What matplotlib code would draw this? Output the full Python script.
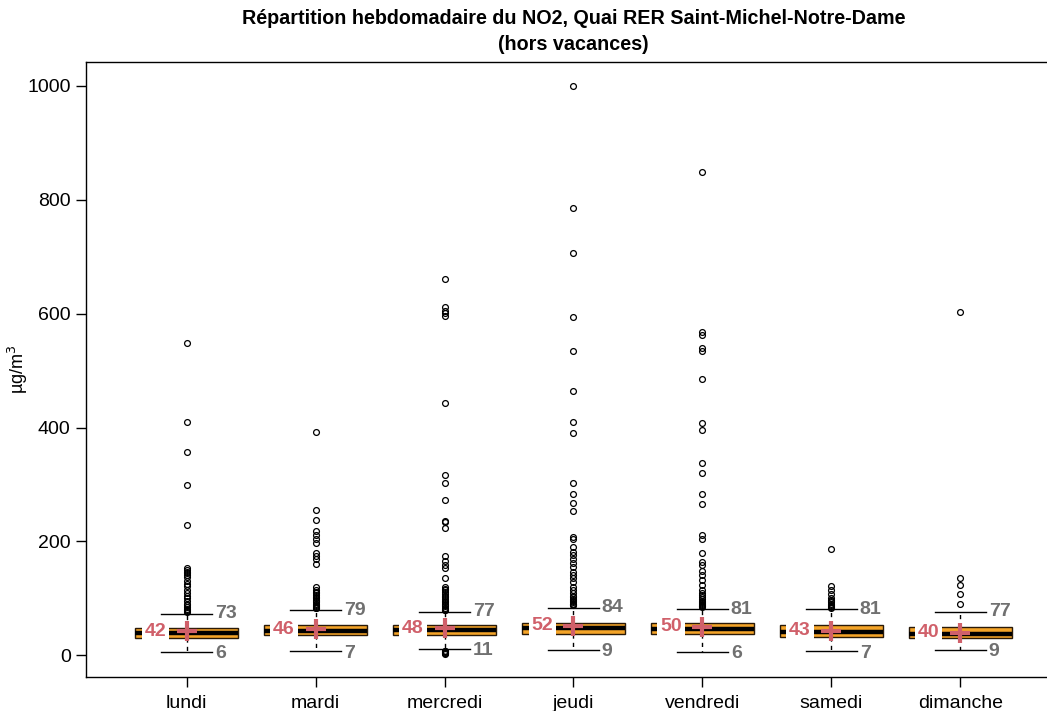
import matplotlib
matplotlib.use("Agg")
import matplotlib.pyplot as plt

plt.rcParams['font.family'] = ['Liberation Sans', 'DejaVu Sans']

# Weekly NO2 distribution (µg/m3), one entry per day
days = ["lundi", "mardi", "mercredi", "jeudi", "vendredi", "samedi", "dimanche"]
q1 = [30, 35, 36, 37, 37, 33, 30]
medians = [39, 43, 45, 48, 47, 41, 38]
q3 = [48, 54, 53, 57, 56, 53, 49]
whisk_low = [6, 7, 11, 9, 6, 7, 9]
whisk_high = [73, 79, 77, 84, 81, 81, 77]
means = [42, 46, 48, 52, 50, 43, 40]

out_lundi = [549, 410, 358, 300, 229, 153, 150, 147, 145, 142, 137, 131, 126,
             122, 115, 109, 105, 100, 96, 91, 88, 85, 82, 80, 78, 76]
out_mardi = [392, 255, 237, 218, 211, 204, 197, 179, 174, 169, 160, 120, 114,
             112, 109, 106, 103, 100, 97, 95, 93, 91, 89, 87, 85, 84, 83]
out_mercredi = [661, 612, 605, 601, 596, 443, 317, 303, 273, 236, 234, 223,
                174, 166, 158, 153, 136, 120, 117, 114, 111, 108, 105, 102,
                99, 96, 93, 90, 88, 86, 84, 82, 80, 79, 8, 7, 6, 5, 4, 3]
out_jeudi = [1000, 786, 707, 595, 534, 465, 410, 391, 302, 284, 267, 254, 208,
             205, 191, 182, 176, 169, 162, 155, 146, 141, 135, 129, 120, 114,
             109, 105, 102, 99, 97, 95, 93, 91, 90, 89, 88]
out_vendredi = [848, 568, 563, 539, 534, 486, 408, 395, 338, 321, 284, 266,
                212, 205, 180, 164, 158, 149, 141, 132, 123, 114, 110, 106,
                102, 99, 96, 94, 92, 90, 88, 87, 86, 85]
out_samedi = [187, 121, 114, 107, 100, 97, 95, 93, 91, 89, 87, 85, 84]
out_dimanche = [603, 136, 123, 108, 91]
outliers = [out_lundi, out_mardi, out_mercredi, out_jeudi, out_vendredi,
            out_samedi, out_dimanche]

title = "Répartition hebdomadaire du NO2, Quai RER Saint-Michel-Notre-Dame\n(hors vacances)"

fig = plt.figure(figsize=(10.47, 7.11), dpi=100)
ax = fig.add_axes([86 / 1047, 1 - 677 / 711, (1061 - 86) / 1047, (677 - 62) / 711])

stats = []
for i, d in enumerate(days):
    stats.append(dict(label=d, q1=q1[i], med=medians[i], q3=q3[i],
                      whislo=whisk_low[i], whishi=whisk_high[i],
                      mean=means[i], fliers=outliers[i]))

positions = list(range(1, len(days) + 1))
box_col = "#F4A428"
ax.bxp(stats, positions=positions, widths=0.8, patch_artist=True,
       showmeans=False,
       boxprops=dict(facecolor=box_col, edgecolor="#2a1a08", linewidth=1.0),
       medianprops=dict(color="black", linewidth=3.2, solid_capstyle="butt"),
       whiskerprops=dict(color="black", linewidth=1.0, linestyle=(0, (3, 3))),
       capprops=dict(color="black", linewidth=1.0),
       capwidths=0.4,
       flierprops=dict(marker="o", markerfacecolor="none",
                       markeredgecolor="black", markersize=4.2,
                       markeredgewidth=0.9, linestyle="none"))

mean_col = "#D0606A"
grey = "#707070"
for i, x in enumerate(positions):
    ax.plot(x, means[i], marker="+", color=mean_col, markersize=14,
            markeredgewidth=3, zorder=5)
    ax.text(x - 0.16, means[i], str(means[i]), ha="right", va="center",
            fontsize=14, fontweight="bold", color=mean_col, zorder=6,
            bbox=dict(facecolor="white", edgecolor="none", pad=2.0))
    ax.text(x + 0.22, whisk_high[i], str(whisk_high[i]), ha="left",
            va="center", fontsize=14, fontweight="bold", color=grey, zorder=6)
    ax.text(x + 0.22, whisk_low[i] - 3, str(whisk_low[i]), ha="left",
            va="center", fontsize=14, fontweight="bold", color=grey, zorder=6)

ax.set_xlim(0.22, 7.78)
ax.set_ylim(-38, 1042)
ax.set_xticks(positions)
ax.set_xticklabels(days, fontsize=14)
ax.set_yticks([0, 200, 400, 600, 800, 1000])
ax.tick_params(axis="y", labelsize=14, length=7, width=1, pad=4)
ax.tick_params(axis="x", length=7, width=1, pad=6)
ax.set_ylabel("µg/m$^3$", fontsize=13)
ax.yaxis.set_label_coords(-0.057, 0.5)
for s in ax.spines.values():
    s.set_linewidth(1.0)
ax.set_title(title, fontsize=14.2, fontweight="bold", pad=9, linespacing=1.4)

fig.savefig("out.png", dpi=100)
